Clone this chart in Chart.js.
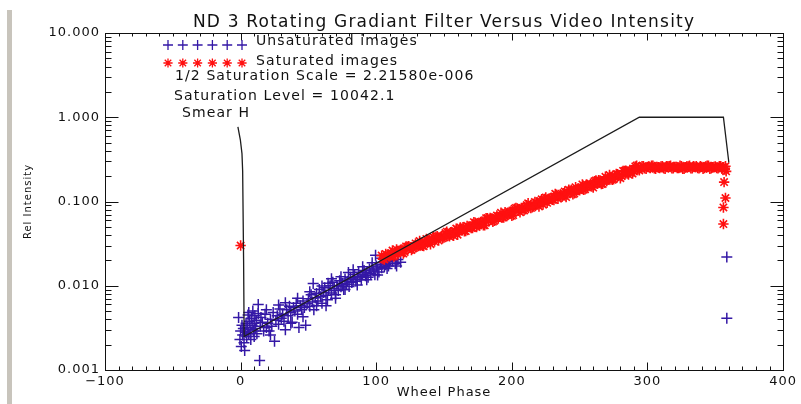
<!DOCTYPE html>
<html>
<head>
<meta charset="utf-8">
<script src="https://cdn.jsdelivr.net/npm/chart.js@4.4.1/dist/chart.umd.min.js"></script>
<style>
  html, body { margin: 0; padding: 0; background: #fff; }
  #wrap { width: 801px; height: 404px; }
</style>
</head>
<body>
<div id="wrap"><canvas id="chart" width="801" height="404"></canvas></div>
<script>
// Unsaturated frames (blue crosses)
const bluePhase = [
  -1.5, -0.5, 0, 0.5, 1, 1.5, 2, 2.5, 3, 3.5,
  4, 4.5, 5, 5.5, 6, 6.5, 7, 7.5, 8, 8.5,
  9, 9.5, 10, 10.5, 11, 11.5, 12, 13, 13, 14,
  14.5, 15, 16, 17, 18, 19, 20, 21, 22, 23,
  24, 25, 26, 27, 28, 29, 30, 31, 32, 33,
  34, 35, 36, 37, 38, 39, 40, 41, 42, 43,
  44, 45, 46, 47, 48, 49, 50, 51, 52, 53,
  53.5, 54, 55, 56, 57, 58, 59, 60, 61, 62,
  63, 64, 64.5, 65, 66, 67, 68, 69, 70, 71,
  72, 73, 74, 75, 76, 77, 78, 79, 79.5, 80,
  81, 82, 83, 84, 85, 86, 87, 88, 89, 90,
  91, 92, 93, 94, 95, 96, 97, 98, 99, 99.5,
  100, 101, 102, 103, 104, 105, 106, 107, 108, 109,
  110, 112, 114, 116, 118, 358.5, 358.5,
  6, 10, 19, 22, 28, 33, 37, 42, 46, 51,
  56, 60, 63, 67, 70, 74, 77, 83, 86, 90,
  93, 97, 101, 104, 108, 112, 115
];
const blueIntensity = [
  0.0042, 0.0023, 0.0029, 0.0019, 0.0034, 0.0026, 0.0031, 0.0021, 0.0017, 0.0028,
  0.0036, 0.0025, 0.0032, 0.0045, 0.0027, 0.0038, 0.0030, 0.0023, 0.0041, 0.0034,
  0.0050, 0.0029, 0.0036, 0.0044, 0.0031, 0.0039, 0.0027, 0.0047, 0.0060, 0.0013,
  0.0033, 0.0042, 0.0037, 0.0029, 0.0046, 0.0032, 0.0036, 0.0029, 0.0040, 0.0033,
  0.0048, 0.0022, 0.0039, 0.0044, 0.0035, 0.0053, 0.0041, 0.0046, 0.0038, 0.0030,
  0.0052, 0.0044, 0.0057, 0.0048, 0.0037, 0.0055, 0.0050, 0.0062, 0.0046, 0.0032,
  0.0058, 0.0052, 0.0066, 0.0055, 0.0034, 0.0061, 0.0070, 0.0057, 0.0078, 0.0064,
  0.0106, 0.0052, 0.0072, 0.0081, 0.0066, 0.0090, 0.0074, 0.0062, 0.0083, 0.0095,
  0.0077, 0.0068, 0.0107, 0.0088, 0.0100, 0.0082, 0.0110, 0.0093, 0.0078, 0.0101,
  0.0088, 0.0115, 0.0097, 0.0106, 0.0090, 0.0120, 0.0104, 0.0112, 0.0144, 0.0098,
  0.0126, 0.0109, 0.0118, 0.0136, 0.0113, 0.0124, 0.0145, 0.0128, 0.0118, 0.0137,
  0.0152, 0.0131, 0.0143, 0.0126, 0.0158, 0.0140, 0.0167, 0.0150, 0.0135, 0.0230,
  0.0172, 0.0158, 0.0146, 0.0180, 0.0163, 0.0190, 0.0168, 0.0178, 0.0195, 0.0172,
  0.0186, 0.0200, 0.0183, 0.0205, 0.0190, 0.022, 0.0041,
  0.0048, 0.0025, 0.0052, 0.0026, 0.0059, 0.0063, 0.0036, 0.0071, 0.0043, 0.0085,
  0.0058, 0.0099, 0.0058, 0.0121, 0.0071, 0.0128, 0.0090, 0.0155, 0.0102, 0.0168,
  0.0118, 0.0188, 0.0134, 0.0212, 0.0160, 0.0225, 0.0172
];

// Saturated frames (red asterisks)
const redPhase = [
  0,
  104, 106, 108, 110, 112, 114, 116, 118, 120, 122,
  124, 126, 128, 130, 132, 134, 136, 138, 140, 142,
  144, 146, 148, 150, 152, 154, 156, 158, 160, 162,
  164, 166, 168, 170, 172, 174, 176, 178, 180, 182,
  184, 186, 188, 190, 192, 194, 196, 198, 200, 202,
  204, 206, 208, 210, 212, 214, 216, 218, 220, 222,
  224, 226, 228, 230, 232, 234, 236, 238, 240, 242,
  244, 246, 248, 250, 252, 254, 256, 258, 260, 262,
  264, 266, 268, 270, 272, 274, 276, 278, 280, 282,
  284, 286, 288, 290, 292, 294, 296, 298, 300, 302,
  304, 306, 308, 310, 312, 314, 316, 318, 320, 322,
  324, 326, 328, 330, 332, 334, 336, 338, 340, 342,
  344, 346, 348, 350, 352, 354, 356, 357, 358, 357.5,
  356.5, 357.5, 356, 356,
  105, 107, 109, 111, 113, 115, 117, 119, 121, 123,
  125, 127, 129, 131, 133, 135, 137, 139, 141, 143,
  145, 147, 149, 151, 153, 155, 157, 159, 161, 163,
  165, 167, 169, 171, 173, 175, 177, 179, 181, 183,
  185, 187, 189, 191, 193, 195, 197, 199, 201, 203,
  205, 207, 209, 211, 213, 215, 217, 219, 221, 223,
  225, 227, 229, 231, 233, 235, 237, 239, 241, 243,
  245, 247, 249, 251, 253, 255, 257, 259, 261, 263,
  265, 267, 269, 271, 273, 275, 277, 279, 281, 283,
  285, 287, 289, 291, 293, 295, 297, 299, 301, 303,
  305, 307, 309, 311, 313, 315, 317, 319, 321, 323,
  325, 327, 329, 331, 333, 335, 337, 339, 341, 343,
  345, 347, 349, 351, 353, 355
];
const redIntensity = [
  0.030,
  0.0228, 0.0205, 0.0231, 0.0223, 0.0262, 0.0230, 0.0251, 0.0268, 0.0241, 0.0293,
  0.0295, 0.0266, 0.0299, 0.0289, 0.0340, 0.0298, 0.0325, 0.0347, 0.0311, 0.0379,
  0.0382, 0.0344, 0.0387, 0.0374, 0.0439, 0.0385, 0.0421, 0.0449, 0.0403, 0.0491,
  0.0494, 0.0445, 0.0501, 0.0484, 0.0569, 0.0499, 0.0544, 0.0581, 0.0521, 0.0635,
  0.0639, 0.0576, 0.0648, 0.0626, 0.0736, 0.0645, 0.0704, 0.0752, 0.0675, 0.0822,
  0.0827, 0.0745, 0.0838, 0.0810, 0.0952, 0.0835, 0.0911, 0.0972, 0.0873, 0.1063,
  0.1071, 0.0963, 0.1084, 0.1047, 0.1232, 0.1080, 0.1179, 0.1258, 0.1129, 0.1376,
  0.1385, 0.1247, 0.1404, 0.1356, 0.1594, 0.1398, 0.1526, 0.1628, 0.1461, 0.1780,
  0.1792, 0.1614, 0.1817, 0.1754, 0.2063, 0.1809, 0.1974, 0.2107, 0.1891, 0.2304,
  0.2319, 0.2088, 0.2350, 0.2269, 0.2669, 0.2340, 0.2627, 0.2474, 0.2576, 0.2499,
  0.2652, 0.2448, 0.2550, 0.2601, 0.2474, 0.2627, 0.2627, 0.2474, 0.2576, 0.2499,
  0.2652, 0.2448, 0.2550, 0.2601, 0.2474, 0.2627, 0.2627, 0.2474, 0.2576, 0.2499,
  0.2652, 0.2448, 0.2550, 0.2601, 0.2474, 0.2627, 0.2550, 0.240, 0.228, 0.262,
  0.170, 0.110, 0.085, 0.054,
  0.0207, 0.0239, 0.0223, 0.0245, 0.0222, 0.0270, 0.0249, 0.0269, 0.0252, 0.0291,
  0.0282, 0.0275, 0.0318, 0.0296, 0.0325, 0.0295, 0.0359, 0.0331, 0.0357, 0.0334,
  0.0387, 0.0375, 0.0365, 0.0422, 0.0393, 0.0432, 0.0392, 0.0477, 0.0440, 0.0474,
  0.0444, 0.0514, 0.0497, 0.0485, 0.0560, 0.0521, 0.0573, 0.0521, 0.0633, 0.0584,
  0.0629, 0.0589, 0.0682, 0.0660, 0.0644, 0.0744, 0.0692, 0.0761, 0.0691, 0.0840,
  0.0775, 0.0836, 0.0783, 0.0906, 0.0877, 0.0854, 0.0988, 0.0919, 0.1011, 0.0917,
  0.1115, 0.1028, 0.1109, 0.1039, 0.1203, 0.1164, 0.1134, 0.1312, 0.1219, 0.1343,
  0.1218, 0.1480, 0.1366, 0.1473, 0.1380, 0.1596, 0.1546, 0.1506, 0.1741, 0.1619,
  0.1782, 0.1617, 0.1966, 0.1814, 0.1956, 0.1832, 0.2120, 0.2052, 0.2000, 0.2312,
  0.2150, 0.2365, 0.2147, 0.2611, 0.2409, 0.2499, 0.2627, 0.2448, 0.2601, 0.2652,
  0.2474, 0.2576, 0.2499, 0.2627, 0.2448, 0.2601, 0.2652, 0.2474, 0.2576, 0.2499,
  0.2627, 0.2448, 0.2601, 0.2652, 0.2474, 0.2576, 0.2499, 0.2627, 0.2448, 0.2601,
  0.2652, 0.2474, 0.2576, 0.2499, 0.2627, 0.2448
];

// Smear H model curve
const smearPhase = [-2, -0.2, 1, 1.5, 2.2, 2.6, 294, 356, 360];
const smearIntensity = [0.77, 0.54, 0.37, 0.23, 0.02, 0.0025, 1.0, 1.0, 0.29];

const yTicks = [0.001, 0.01, 0.1, 1, 10];

const titleText = 'ND 3 Rotating Gradiant Filter Versus Video Intensity';
const notes = [
  ['Unsaturated images', 256, 45],
  ['Saturated images', 256, 65],
  ['1/2 Saturation Scale = 2.21580e-006', 175, 80],
  ['Saturation Level = 10042.1', 174, 100],
  ['Smear H', 182, 117]
];

const BLUE = '#3418a6';
const RED = '#ff1010';
const FONT = '"DejaVu Sans", sans-serif';

const toPoints = (xs, ys) => xs.map((x, i) => ({ x: x, y: ys[i] }));

function plus(ctx, x, y, r) {
  ctx.moveTo(x - r, y); ctx.lineTo(x + r, y);
  ctx.moveTo(x, y - r); ctx.lineTo(x, y + r);
}
function asterisk(ctx, x, y, r) {
  plus(ctx, x, y, r);
  const d = r * 0.7071;
  ctx.moveTo(x - d, y - d); ctx.lineTo(x + d, y + d);
  ctx.moveTo(x - d, y + d); ctx.lineTo(x + d, y - d);
}

// IDL-style frame: box, inward ticks on all four sides, title and notes
const idlFrame = {
  id: 'idlFrame',
  beforeLayout(chart) {
    chart.ctx.letterSpacing = '1px';
  },
  beforeDraw(chart) {
    const ctx = chart.ctx;
    ctx.save();
    ctx.fillStyle = '#fff';
    ctx.fillRect(0, 0, chart.width, chart.height);
    ctx.fillStyle = '#c8c4bc';
    ctx.fillRect(7, 10, 5, chart.height - 10);
    ctx.restore();
    ctx.letterSpacing = '1px';
  },
  afterDraw(chart) {
    const { ctx, chartArea: a, scales: { x, y } } = chart;
    ctx.save();
    ctx.strokeStyle = '#111';
    ctx.lineWidth = 1;
    const L = Math.round(a.left) + 0.5, R = Math.round(a.right) + 0.5;
    const T = Math.round(a.top) + 0.5, B = Math.round(a.bottom) + 0.5;
    ctx.strokeRect(L, T, R - L, B - T);

    ctx.beginPath();
    for (let v = -100; v <= 400; v += 10) {
      const px = Math.round(x.getPixelForValue(v)) + 0.5;
      const major = v % 100 === 0;
      ctx.moveTo(px, B); ctx.lineTo(px, B - (major ? 8 : 4));
      ctx.moveTo(px, T); ctx.lineTo(px, T + (major ? 7 : 3));
    }
    for (let e = -3; e <= 1; e++) {
      for (let m = 1; m <= 9; m++) {
        if (e === 1 && m > 1) break;
        const py = Math.round(y.getPixelForValue(m * Math.pow(10, e))) + 0.5;
        const len = m === 1 ? 13 : 6;
        ctx.moveTo(L, py); ctx.lineTo(L + len, py);
        ctx.moveTo(R, py); ctx.lineTo(R - len, py);
      }
    }
    ctx.stroke();

    ctx.fillStyle = '#111';
    ctx.font = '17px ' + FONT;
    ctx.letterSpacing = '1.2px';
    ctx.textAlign = 'center';
    ctx.textBaseline = 'alphabetic';
    ctx.fillText(titleText, (a.left + a.right) / 2, 27);

    // legend rows
    ctx.lineWidth = 1.3;
    ctx.strokeStyle = BLUE;
    ctx.beginPath();
    for (let i = 0; i < 6; i++) plus(ctx, 168 + i * 14.8, 45, 5);
    ctx.stroke();
    ctx.strokeStyle = RED;
    ctx.beginPath();
    for (let i = 0; i < 6; i++) asterisk(ctx, 168 + i * 14.8, 63, 4.6);
    ctx.stroke();

    ctx.font = '14px ' + FONT;
    ctx.letterSpacing = '1.1px';
    ctx.textAlign = 'left';
    notes.forEach(n => ctx.fillText(n[0], n[1], n[2]));
    ctx.restore();
  }
};

new Chart(document.getElementById('chart'), {
  type: 'scatter',
  data: {
    datasets: [
      {
        type: 'line',
        label: 'Smear H',
        data: toPoints(smearPhase, smearIntensity),
        borderColor: '#1c1c1c',
        borderWidth: 1.3,
        pointRadius: 0,
        fill: false,
        tension: 0,
        order: 0
      },
      {
        label: 'Saturated images',
        data: toPoints(redPhase, redIntensity),
        pointStyle: 'star',
        pointRadius: 5.2,
        borderColor: RED,
        backgroundColor: RED,
        borderWidth: 1.6,
        order: 1
      },
      {
        label: 'Unsaturated images',
        data: toPoints(bluePhase, blueIntensity),
        pointStyle: 'cross',
        pointRadius: 5.5,
        borderColor: BLUE,
        backgroundColor: BLUE,
        borderWidth: 1.5,
        order: 2
      }
    ]
  },
  options: {
    responsive: false,
    animation: false,
    events: [],
    layout: { padding: { top: 33, right: 15, bottom: 4, left: 0 } },
    plugins: {
      legend: { display: false },
      tooltip: { enabled: false },
      title: { display: false }
    },
    scales: {
      x: {
        type: 'linear',
        min: -100,
        max: 400,
        grid: { display: false, drawTicks: false },
        border: { display: false },
        ticks: {
          stepSize: 100,
          padding: 4,
          maxRotation: 0,
          color: '#111',
          font: { family: FONT, size: 13 },
          callback: v => (v < 0 ? '\u2212' + (-v) : String(v))
        },
        title: {
          display: true,
          text: 'Wheel Phase',
          color: '#111',
          font: { family: FONT, size: 13 },
          padding: { top: 0, bottom: 0 }
        },
        afterFit: s => { s.height = 30; }
      },
      y: {
        type: 'logarithmic',
        min: 0.001,
        max: 10,
        grid: { display: false, drawTicks: false },
        border: { display: false },
        afterBuildTicks: s => { s.ticks = yTicks.map(v => ({ value: v })); },
        ticks: {
          padding: 5,
          autoSkip: false,
          color: '#111',
          font: { family: FONT, size: 13 },
          callback: v => Number(v).toFixed(3)
        },
        title: {
          display: true,
          text: 'Rel Intensity',
          color: '#111',
          font: { family: FONT, size: 10 },
          padding: { top: 22, bottom: 0 }
        },
        afterFit: s => { s.width = 105; }
      }
    }
  },
  plugins: [idlFrame]
});
</script>
</body>
</html>
